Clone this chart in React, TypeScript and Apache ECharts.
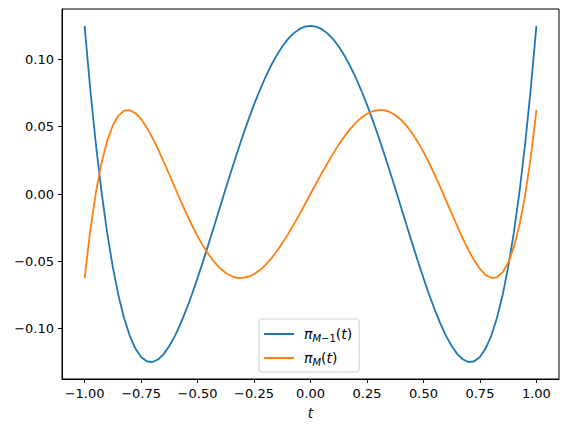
import React, { useEffect, useRef } from "react";
import * as echarts from "echarts";

const tValues = [
  -1, -0.975, -0.95, -0.925, -0.9, -0.875, -0.85, -0.825, -0.8, -0.775, -0.75, -0.725, -0.7, -0.675,
  -0.65, -0.625, -0.6, -0.575, -0.55, -0.525, -0.5, -0.475, -0.45, -0.425, -0.4, -0.375, -0.35,
  -0.325, -0.3, -0.275, -0.25, -0.225, -0.2, -0.175, -0.15, -0.125, -0.1, -0.075, -0.05, -0.025, 0,
  0.025, 0.05, 0.075, 0.1, 0.125, 0.15, 0.175, 0.2, 0.225, 0.25, 0.275, 0.3, 0.325, 0.35, 0.375, 0.4,
  0.425, 0.45, 0.475, 0.5, 0.525, 0.55, 0.575, 0.6, 0.625, 0.65, 0.675, 0.7, 0.725, 0.75, 0.775, 0.8,
  0.825, 0.85, 0.875, 0.9, 0.925, 0.95, 0.975, 1,
];
const piMminus1 = [
  0.125, 0.0781, 0.037, 0.0015, -0.0289, -0.0544, -0.0755, -0.0924, -0.1054, -0.1149, -0.1211,
  -0.1243, -0.1249, -0.123, -0.119, -0.113, -0.1054, -0.0963, -0.086, -0.0747, -0.0625, -0.0497,
  -0.0365, -0.023, -0.0094, 0.0042, 0.0175, 0.0305, 0.0431, 0.0551, 0.0664, 0.0769, 0.0866, 0.0953,
  0.103, 0.1096, 0.1151, 0.1194, 0.1225, 0.1244, 0.125, 0.1244, 0.1225, 0.1194, 0.1151, 0.1096, 0.103,
  0.0953, 0.0866, 0.0769, 0.0664, 0.0551, 0.0431, 0.0305, 0.0175, 0.0042, -0.0094, -0.023, -0.0365,
  -0.0497, -0.0625, -0.0747, -0.086, -0.0963, -0.1054, -0.113, -0.119, -0.123, -0.1249, -0.1243,
  -0.1211, -0.1149, -0.1054, -0.0924, -0.0755, -0.0544, -0.0289, 0.0015, 0.037, 0.0781, 0.125,
];
const piM = [
  -0.0625, -0.0272, 0.0011, 0.0231, 0.0395, 0.0511, 0.0583, 0.0619, 0.0623, 0.0601, 0.0557, 0.0495,
  0.0419, 0.0334, 0.0241, 0.0145, 0.0047, -0.0049, -0.0142, -0.0231, -0.0313, -0.0387, -0.0452,
  -0.0507, -0.0552, -0.0587, -0.061, -0.0623, -0.0624, -0.0615, -0.0596, -0.0567, -0.0528, -0.0482,
  -0.0427, -0.0367, -0.03, -0.0229, -0.0155, -0.0078, 0, 0.0078, 0.0155, 0.0229, 0.03, 0.0367, 0.0427,
  0.0482, 0.0528, 0.0567, 0.0596, 0.0615, 0.0624, 0.0623, 0.061, 0.0587, 0.0552, 0.0507, 0.0452,
  0.0387, 0.0313, 0.0231, 0.0142, 0.0049, -0.0047, -0.0145, -0.0241, -0.0334, -0.0419, -0.0495,
  -0.0557, -0.0601, -0.0623, -0.0619, -0.0583, -0.0511, -0.0395, -0.0231, -0.0011, 0.0272, 0.0625,
];
const xTicks = [-1, -0.75, -0.5, -0.25, 0, 0.25, 0.5, 0.75, 1];
const yTicks = [-0.1, -0.05, 0, 0.05, 0.1];
const seriesNames = ["piMminus1", "piM"];

const FONT = "DejaVu Sans";
const fmt = (v: number) => (v < 0 ? "\u2212" : "") + Math.abs(v).toFixed(2);

export default function App() {
  const ref = useRef<HTMLDivElement>(null);
  useEffect(() => {
    if (!ref.current) return;
    const chart = echarts.init(ref.current, undefined, { renderer: "svg" });
    const labelStyle = {
      fontFamily: FONT,
      fontSize: 13,
      color: "#000",
      margin: 8,
    };
    chart.setOption({
      animation: false,
      backgroundColor: "#fff",
      grid: {
        left: 62,
        right: 9,
        top: 9,
        bottom: 53,
        show: true,
        borderColor: "#000",
        borderWidth: 1,
        backgroundColor: "transparent",
      },
      xAxis: {
        type: "value",
        min: -1.1,
        max: 1.1,
        axisLine: { show: true, onZero: false, lineStyle: { color: "#000", width: 1 } },
        splitLine: { show: false },
        axisTick: { show: true, length: 4, customValues: xTicks, lineStyle: { color: "#000" } },
        axisLabel: { customValues: xTicks, formatter: fmt, ...labelStyle },
        name: "t",
        nameLocation: "middle",
        nameGap: 27,
        nameTextStyle: { fontFamily: FONT, fontSize: 13.5, fontStyle: "italic", color: "#000" },
      },
      yAxis: {
        type: "value",
        min: -0.1375,
        max: 0.1375,
        axisLine: { show: true, onZero: false, lineStyle: { color: "#000", width: 1 } },
        splitLine: { show: false },
        axisTick: { show: true, length: 4, customValues: yTicks, lineStyle: { color: "#000" } },
        axisLabel: { customValues: yTicks, formatter: fmt, ...labelStyle },
      },
      legend: {
        left: 259,
        top: 319,
        orient: "vertical",
        itemWidth: 30,
        itemHeight: 2,
        itemGap: 6,
        padding: [6, 7, 5, 5],
        backgroundColor: "rgba(255,255,255,0.8)",
        borderColor: "#d0d0d0",
        borderWidth: 1,
        borderRadius: 3,
        icon: "rect",
        data: seriesNames,
        formatter: (name: string) =>
          name === "piM"
            ? "{g|}{v|\u03c0}{si|M}{p|(}{v|t}{p|)}"
            : "{g|}{v|\u03c0}{si|M}{sr|\u22121}{p|(}{v|t}{p|)}",
        textStyle: {
          fontFamily: FONT,
          fontSize: 12,
          color: "#000",
          lineHeight: 18,
          rich: {
            g: { width: 5, lineHeight: 18 },
            v: { fontFamily: FONT, fontSize: 14, fontStyle: "italic", color: "#000", lineHeight: 18 },
            p: { fontFamily: FONT, fontSize: 14, color: "#000", lineHeight: 18 },
            si: {
              fontFamily: FONT,
              fontSize: 10,
              fontStyle: "italic",
              color: "#000",
              lineHeight: 18,
              verticalAlign: "bottom",
            },
            sr: { fontFamily: FONT, fontSize: 10, color: "#000", lineHeight: 18, verticalAlign: "bottom" },
          },
        },
      },
      series: [
        {
          name: seriesNames[0],
          type: "line",
          data: tValues.map((t, i) => [t, piMminus1[i]]),
          showSymbol: false,
          smooth: false,
          lineStyle: { color: "#1f77b4", width: 1.8 },
          itemStyle: { color: "#1f77b4" },
        },
        {
          name: seriesNames[1],
          type: "line",
          data: tValues.map((t, i) => [t, piM[i]]),
          showSymbol: false,
          smooth: false,
          lineStyle: { color: "#ff7f0e", width: 1.8 },
          itemStyle: { color: "#ff7f0e" },
        },
      ],
    });
    return () => chart.dispose();
  }, []);
  return <div ref={ref} style={{ width: 568, height: 432, position: "absolute", left: 0, top: 0 }} />;
}
